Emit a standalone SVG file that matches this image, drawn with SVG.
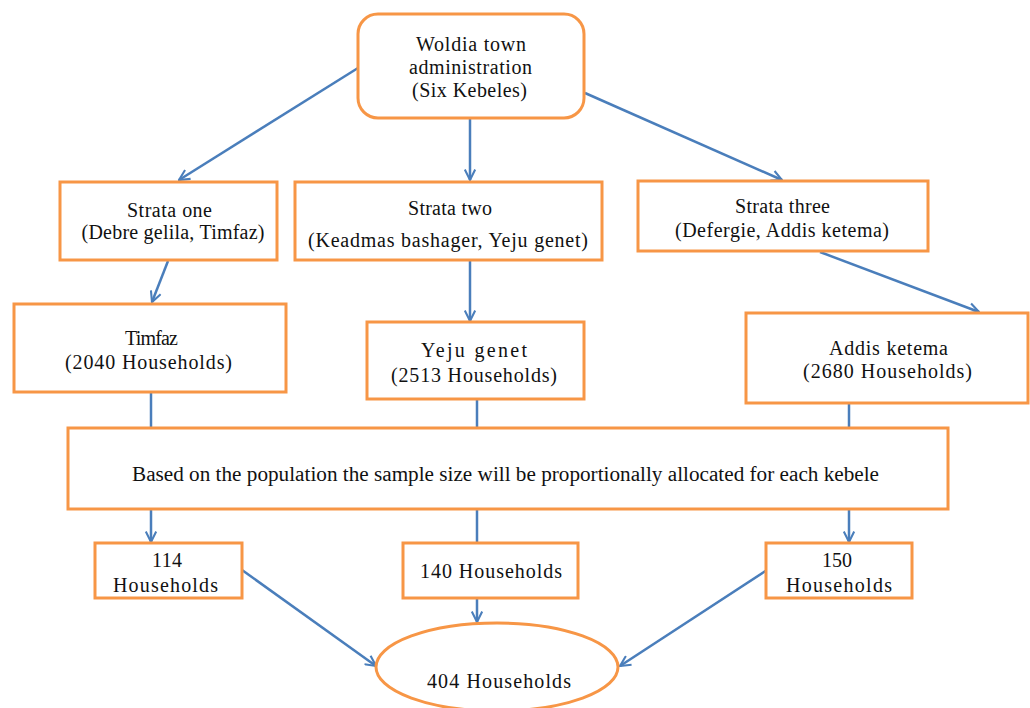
<svg xmlns="http://www.w3.org/2000/svg" width="1030" height="708" viewBox="0 0 1030 708">
<style>
.box{fill:#fff;stroke:#f79646;stroke-width:3}
text{font-family:'Liberation Serif','Times New Roman',Times,serif;font-size:20px;fill:#111;text-anchor:middle}
.c{fill:none;stroke:#4a7ebb;stroke-width:2.5}
.a{marker-end:url(#arr)}
</style>
<defs>
<marker id="arr" viewBox="0 0 12 12" refX="11" refY="6" markerWidth="5" markerHeight="5" orient="auto" markerUnits="strokeWidth">
<path d="M1,1 L11,6 L1,11" fill="none" stroke="#4a7ebb" stroke-width="2"/>
</marker>
</defs>
<rect width="1030" height="708" fill="#fff"/>
<g id="connectors">
<line class="c a" x1="358" y1="68" x2="179" y2="180"/>
<line class="c a" x1="470" y1="119" x2="470" y2="180"/>
<line class="c a" x1="585" y1="93" x2="782" y2="180"/>
<line class="c a" x1="168" y1="261" x2="152" y2="302"/>
<line class="c a" x1="470" y1="261" x2="470" y2="321"/>
<line class="c a" x1="820" y1="252" x2="979" y2="312"/>
<line class="c" x1="151" y1="392" x2="151" y2="428"/>
<line class="c" x1="477" y1="399" x2="477" y2="428"/>
<line class="c" x1="849" y1="403" x2="849" y2="428"/>
<line class="c a" x1="151" y1="509" x2="151" y2="542"/>
<line class="c" x1="477" y1="509" x2="477" y2="543"/>
<line class="c a" x1="849" y1="509" x2="849" y2="542"/>
<line class="c a" x1="242" y1="570" x2="376" y2="666"/>
<line class="c a" x1="477" y1="598" x2="477" y2="622"/>
<line class="c a" x1="767" y1="570" x2="620" y2="666"/>
</g>
<g id="n-woldia">
<rect class="box" x="358" y="14" width="226" height="104" rx="20"/>
<text x="471" y="51" textLength="110">Woldia town</text>
<text x="470.5" y="74" textLength="123">administration</text>
<text x="469.5" y="97" textLength="115">(Six Kebeles)</text>
</g>
<g id="n-strata1">
<rect class="box" x="60" y="182" width="217" height="78"/>
<text x="169.5" y="217" textLength="85">Strata one</text>
<text x="173" y="239" textLength="183">(Debre gelila, Timfaz)</text>
</g>
<g id="n-strata2">
<rect class="box" x="295" y="182" width="307" height="78"/>
<text x="450" y="215" textLength="84">Strata two</text>
<text x="448" y="247" textLength="280">(Keadmas bashager, Yeju genet)</text>
</g>
<g id="n-strata3">
<rect class="box" x="638" y="181" width="290" height="70"/>
<text x="782.5" y="213" textLength="95">Strata three</text>
<text x="782" y="237" textLength="214">(Defergie, Addis ketema)</text>
</g>
<g id="n-timfaz">
<rect class="box" x="14" y="304" width="272" height="88"/>
<text x="151.5" y="345" textLength="53">Timfaz</text>
<text x="148.5" y="369" textLength="167">(2040 Households)</text>
</g>
<g id="n-yeju">
<rect class="box" x="367" y="322" width="217" height="77"/>
<text x="474" y="357" textLength="106">Yeju genet</text>
<text x="474" y="382" textLength="166">(2513 Households)</text>
</g>
<g id="n-addis">
<rect class="box" x="746" y="313" width="282" height="90"/>
<text x="888.5" y="355" textLength="119">Addis ketema</text>
<text x="887.5" y="378" textLength="169">(2680 Households)</text>
</g>
<g id="n-based">
<rect class="box" x="68" y="428" width="880" height="81"/>
<text x="505.5" y="481" textLength="747" lengthAdjust="spacingAndGlyphs">Based on the population the sample size will be proportionally allocated for each  kebele</text>
</g>
<g id="n-114">
<rect class="box" x="95" y="543" width="147" height="55"/>
<text x="167" y="567" textLength="30">114</text>
<text x="165.5" y="592" textLength="105">Households</text>
</g>
<g id="n-140">
<rect class="box" x="403" y="543" width="175" height="55"/>
<text x="491" y="578" textLength="142">140 Households</text>
</g>
<g id="n-150">
<rect class="box" x="766" y="543" width="146" height="55"/>
<text x="837" y="567" textLength="30">150</text>
<text x="839" y="592" textLength="106">Households</text>
</g>
<g id="n-404">
<ellipse class="box" cx="497" cy="667" rx="121" ry="44"/>
<text x="499" y="688" textLength="144">404 Households</text>
</g>
</svg>
